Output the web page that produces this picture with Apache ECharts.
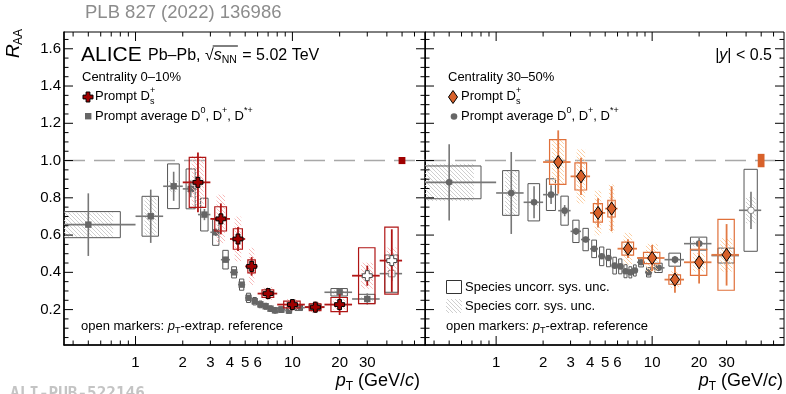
<!DOCTYPE html>
<html>
<head>
<meta charset="utf-8">
<script src="https://cdn.jsdelivr.net/npm/echarts@6/dist/echarts.min.js"></script>
<style>
html,body{margin:0;padding:0;background:#fff;}
#chart{width:786px;height:394px;}
</style>
</head>
<body>
<div id="chart"></div>
<script>
// ---------- axis ranges and ticks ----------
const X_MIN = 0.35, X_MAX = 70, Y_MIN = 0.01, Y_MAX = 1.69;

const xMajorTicks = [1, 10];
const xMinorTicks = [0.4, 0.5, 0.6, 0.7, 0.8, 0.9, 2, 3, 4, 5, 6, 7, 8, 9, 20, 30, 40, 50, 60];
const xTickLabels = [1, 2, 3, 4, 5, 6, 10, 20, 30];
const yMajorTicks = [0.2, 0.4, 0.6, 0.8, 1.0, 1.2, 1.4, 1.6];
const yMinorTicks = [0.05, 0.1, 0.15, 0.25, 0.3, 0.35, 0.45, 0.5, 0.55, 0.65, 0.7, 0.75, 0.85, 0.9, 0.95,
  1.05, 1.1, 1.15, 1.25, 1.3, 1.35, 1.45, 1.5, 1.55, 1.65];
const yTickLabels = ['0.2', '0.4', '0.6', '0.8', '1.0', '1.2', '1.4', '1.6'];

// ---------- Prompt D average (D0, D+, D*+), 0-10% ----------
const dAvgLo = [0, 1, 1.5, 2, 2.5, 3, 3.5, 4, 4.5, 5, 5.5, 6, 6.5, 7, 7.5, 8, 9, 10, 12, 16, 24, 36];
const dAvgHi = [1, 1.5, 2, 2.5, 3, 3.5, 4, 4.5, 5, 5.5, 6, 6.5, 7, 7.5, 8, 9, 10, 12, 16, 24, 36, 50];
const dAvg010Val  = [0.656, 0.701, 0.862, 0.848, 0.710, 0.615, 0.468, 0.400, 0.334, 0.263, 0.245, 0.228, 0.218, 0.205, 0.196, 0.200, 0.195, 0.210, 0.215, 0.293, 0.257, 0.393];
const dAvg010Stat = [0.168, 0.143, 0.078, 0.045, 0.030, 0.020, 0.015, 0.012, 0.012, 0.010, 0.010, 0.010, 0.010, 0.010, 0.010, 0.010, 0.010, 0.010, 0.012, 0.020, 0.030, 0.040];
const dAvg010SysU = [0.070, 0.107, 0.120, 0.107, 0.088, 0.070, 0.050, 0.030, 0.030, 0.025, 0.020, 0.018, 0.016, 0.015, 0.015, 0.015, 0.015, 0.015, 0.015, 0.020, 0.025, 0.100];
const dAvg010SysC = [0.065, 0.100, 0.030, 0.030, 0.020, 0.020, 0.015, 0.012, 0.012, 0.010, 0.010, 0.010, 0.010, 0.010, 0.010, 0.010, 0.010, 0.010, 0.010, 0.012, 0.012, 0.012];
const dAvg010Open = [0, 0, 0, 0, 0, 0, 0, 0, 0, 0, 0, 0, 0, 0, 0, 0, 0, 0, 0, 0, 0, 1];

// ---------- Prompt D average, 30-50% ----------
const dAvg3050Val  = [0.883, 0.826, 0.776, 0.817, 0.731, 0.620, 0.576, 0.526, 0.486, 0.477, 0.436, 0.432, 0.406, 0.400, 0.410, 0.454, 0.400, 0.424, 0.468, 0.554, 0.490, 0.733];
const dAvg3050Stat = [0.205, 0.220, 0.086, 0.050, 0.030, 0.020, 0.015, 0.012, 0.012, 0.010, 0.010, 0.010, 0.010, 0.010, 0.010, 0.010, 0.010, 0.015, 0.020, 0.030, 0.040, 0.100];
const dAvg3050SysU = [0.088, 0.120, 0.100, 0.085, 0.078, 0.060, 0.060, 0.047, 0.050, 0.047, 0.045, 0.040, 0.035, 0.030, 0.030, 0.025, 0.025, 0.025, 0.035, 0.035, 0.040, 0.220];
const dAvg3050SysC = [0.100, 0.120, 0.020, 0.020, 0.020, 0.015, 0.015, 0.012, 0.012, 0.010, 0.010, 0.010, 0.010, 0.010, 0.010, 0.010, 0.020, 0.015, 0.015, 0.015, 0.020, 0.070];
const dAvg3050Open = [0, 0, 0, 0, 0, 0, 0, 0, 0, 0, 0, 0, 0, 0, 0, 0, 0, 0, 0, 0, 0, 1];

// ---------- Prompt Ds+, 0-10% ----------
const ds010Lo   = [2, 3, 4, 5, 6, 8, 12, 16, 24, 36];
const ds010Hi   = [3, 4, 5, 6, 8, 12, 16, 24, 36, 50];
const ds010Val  = [0.883, 0.687, 0.579, 0.432, 0.286, 0.227, 0.213, 0.227, 0.382, 0.463];
const ds010Stat = [0.160, 0.083, 0.065, 0.050, 0.030, 0.030, 0.030, 0.056, 0.054, 0.168];
const ds010SysU = [0.134, 0.065, 0.055, 0.035, 0.020, 0.018, 0.018, 0.038, 0.150, 0.180];
const ds010SysC = [0.140, 0.130, 0.120, 0.100, 0.035, 0.030, 0.030, 0.030, 0.070, 0.070];
const ds010Open = [0, 0, 0, 0, 0, 0, 0, 0, 1, 1];

// ---------- Prompt Ds+, 30-50% ----------
const ds3050Lo   = [2, 3, 4, 5, 6, 8, 12, 16, 24];
const ds3050Hi   = [3, 4, 5, 6, 8, 12, 16, 24, 36];
const ds3050Val  = [0.992, 0.915, 0.719, 0.742, 0.527, 0.477, 0.361, 0.454, 0.494];
const ds3050Stat = [0.170, 0.100, 0.078, 0.120, 0.050, 0.070, 0.070, 0.114, 0.165];
const ds3050SysU = [0.120, 0.073, 0.050, 0.045, 0.035, 0.030, 0.025, 0.070, 0.190];
const ds3050SysC = [0.120, 0.145, 0.120, 0.130, 0.085, 0.076, 0.045, 0.050, 0.090];
const ds3050Open = [0, 0, 0, 0, 0, 0, 0, 0, 0];

// ---------- global normalisation uncertainties (drawn at R_AA = 1) ----------
const norm010  = [[50, 1.0, 0.019]];
const norm3050 = [[50, 1.0, 0.036]];

// ---------- helpers ----------
const FONT = '"Liberation Sans", Arial, Helvetica, sans-serif';
const mctx = document.createElement('canvas').getContext('2d');
function textWidth(s, size, italic) {
  mctx.font = (italic ? 'italic ' : '') + size + 'px ' + FONT;
  return mctx.measureText(s).width;
}
function hatch(color) {
  const cv = document.createElement('canvas');
  cv.width = 4; cv.height = 4;
  const g = cv.getContext('2d');
  g.strokeStyle = color; g.lineWidth = 0.9;
  g.beginPath();
  g.moveTo(-1, -1); g.lineTo(5, 5);
  g.moveTo(-1, 3); g.lineTo(1, 5);
  g.moveTo(3, -1); g.lineTo(5, 1);
  g.stroke();
  return { image: cv, repeat: 'repeat' };
}
function rows(lo, hi, val, stat, su, sc, open) {
  return val.map((v, i) => [lo[i], hi[i], v, stat[i], su[i], sc[i], open[i]]);
}

// marker shapes in pixel space
function crossPts(x, y) {
  const a = 5, t = 1.9;
  return [[x - t, y - a], [x + t, y - a], [x + t, y - t], [x + a, y - t], [x + a, y + t], [x + t, y + t],
          [x + t, y + a], [x - t, y + a], [x - t, y + t], [x - a, y + t], [x - a, y - t], [x - t, y - t]];
}
function diamondPts(x, y) {
  return [[x, y - 6.5], [x + 4.5, y], [x, y + 6.5], [x - 4.5, y]];
}
const markers = {
  cross: (x, y, open, st) => ({ type: 'polygon', shape: { points: crossPts(x, y) },
    style: { fill: open ? '#fff' : st.fill, stroke: open ? '#444' : '#000', lineWidth: 1 } }),
  diamond: (x, y, open, st) => ({ type: 'polygon', shape: { points: diamondPts(x, y) },
    style: { fill: open ? '#fff' : st.fill, stroke: '#000', lineWidth: 1 } }),
  square: (x, y, open, st) => ({ type: 'rect', shape: { x: x - 3.2, y: y - 3.2, width: 6.4, height: 6.4 },
    style: { fill: open ? '#fff' : st.fill, stroke: open ? '#888' : null, lineWidth: 1 } }),
  circle: (x, y, open, st) => ({ type: 'circle', shape: { cx: x, cy: y, r: 3.3 },
    style: { fill: open ? '#fff' : st.fill, stroke: open ? '#888' : null, lineWidth: 1 } })
};

// one measured point: correlated (hatched) box, uncorrelated box, stat bars, marker
function pointRenderer(st) {
  return function (params, api) {
    const lo = api.value(0), hi = api.value(1), v = api.value(2);
    const e = api.value(3), su = api.value(4), sc = api.value(5), open = api.value(6);
    const c = (lo + hi) / 2, w = hi - lo;
    const P = (x, y) => api.coord([Math.max(x, X_MIN * 0.5), y]);
    const ch = [];
    if (sc > 0) {
      const a = P(c - 0.22 * w, v + sc), b = P(c + 0.22 * w, v - sc);
      ch.push({ type: 'rect', shape: { x: a[0], y: a[1], width: b[0] - a[0], height: b[1] - a[1] },
        style: { fill: st.hatch, stroke: null } });
    }
    const a2 = P(c - 0.3 * w, v + su), b2 = P(c + 0.3 * w, v - su);
    ch.push({ type: 'rect', shape: { x: a2[0], y: a2[1], width: b2[0] - a2[0], height: b2[1] - a2[1] },
      style: { fill: null, stroke: st.box, lineWidth: st.boxW } });
    const l = P(lo, v), r = P(hi, v), t = P(c, v + e), d = P(c, v - e);
    ch.push({ type: 'line', shape: { x1: l[0], y1: l[1], x2: r[0], y2: r[1] }, style: { stroke: st.err, lineWidth: st.errW } });
    ch.push({ type: 'line', shape: { x1: t[0], y1: t[1], x2: d[0], y2: d[1] }, style: { stroke: st.err, lineWidth: st.errW } });
    const m = P(c, v);
    ch.push(markers[st.marker](m[0], m[1], open, st));
    return { type: 'group', children: ch };
  };
}

function normRenderer(color) {
  return function (params, api) {
    const x = api.value(0), y = api.value(1), h = api.value(2);
    const a = api.coord([x * 0.95, y + h]), b = api.coord([x * 1.05, y - h]);
    return { type: 'rect', shape: { x: a[0], y: a[1], width: b[0] - a[0], height: b[1] - a[1] }, style: { fill: color } };
  };
}

// inward ticks on all four frame sides plus tick labels
function frameRenderer(withYLabels) {
  return function (params, api) {
    const ch = [];
    const o = api.coord([X_MIN, Y_MIN]), q = api.coord([X_MAX, Y_MAX]);
    const lft = o[0], bot = o[1], rgt = q[0], top = q[1];
    const seg = (x1, y1, x2, y2) => ({ type: 'line', shape: { x1, y1, x2, y2 }, style: { stroke: '#000', lineWidth: 1 } });
    const xt = (v, len) => { const x = api.coord([v, Y_MIN])[0]; ch.push(seg(x, bot, x, bot - len), seg(x, top, x, top + len)); };
    const yt = (v, len) => { const y = api.coord([X_MIN, v])[1]; ch.push(seg(lft, y, lft + len, y), seg(rgt, y, rgt - len, y)); };
    xMajorTicks.forEach(v => xt(v, 9));
    xMinorTicks.forEach(v => xt(v, 4.5));
    yMajorTicks.forEach(v => yt(v, 9));
    yMinorTicks.forEach(v => yt(v, 4.5));
    xTickLabels.forEach(v => {
      const x = api.coord([v, Y_MIN])[0];
      ch.push({ type: 'text', x: x, y: bot + 18, style: { text: String(v), font: '15px ' + FONT, fill: '#000',
        align: 'center', verticalAlign: 'middle', textAlign: 'center', textVerticalAlign: 'middle' } });
    });
    if (withYLabels) {
      yMajorTicks.forEach((v, i) => {
        const y = api.coord([X_MIN, v])[1];
        ch.push({ type: 'text', x: lft - 3, y: y, style: { text: yTickLabels[i], font: '15px ' + FONT, fill: '#000',
          align: 'right', verticalAlign: 'middle', textAlign: 'right', textVerticalAlign: 'middle' } });
      });
    }
    return { type: 'group', children: ch };
  };
}

// ---------- styles ----------
const grayHatch = hatch('#c9c9c9');
const styGray010 = { marker: 'square', fill: '#666', box: '#555', boxW: 1, err: '#777', errW: 1.6, hatch: grayHatch };
const styGray3050 = { marker: 'circle', fill: '#666', box: '#555', boxW: 1, err: '#777', errW: 1.6, hatch: grayHatch };
const styRed = { marker: 'cross', fill: '#a00000', box: '#b01515', boxW: 1.2, err: '#b01515', errW: 1.8, hatch: hatch('#f6b4b4') };
const styOrange = { marker: 'diamond', fill: '#d8612a', box: '#e0703a', boxW: 1.2, err: '#e27a45', errW: 1.8, hatch: hatch('#fbcb9c') };

// ---------- text runs (sub/superscripts as separate pieces) ----------
const TXT = [];
function run(x, y, parts, color, anchor) {
  let total = 0;
  const ws = parts.map(p => textWidth(p.t, p.s, p.i));
  parts.forEach((p, k) => { if (!p.na) total += ws[k]; });
  let cx = anchor === 'right' ? x - total : x;
  parts.forEach((p, k) => {
    TXT.push({ type: 'text', x: cx, y: y + (p.dy || 0), silent: true, z: 100,
      style: { text: p.t, font: (p.i ? 'italic ' : '') + (p.b ? 'bold ' : '') + p.s + 'px ' + (p.f || FONT), fill: p.c || color,
        align: 'left', verticalAlign: 'middle', textAlign: 'left', textVerticalAlign: 'middle' } });
    if (!p.na) cx += ws[k];
  });
  return cx;
}

run(85, 13, [{ t: 'PLB 827 (2022) 136986', s: 18.5 }], '#8c8c8c');
run(10, 394, [{ t: 'ALI-PUB-522146', s: 16, b: true, f: '"DejaVu Sans Mono", monospace' }], '#c4c4c4');

// left panel header
run(81, 55, [{ t: 'ALICE', s: 21 }], '#000');
const sx = run(148, 56, [{ t: 'Pb\u2013Pb, ', s: 16 }, { t: '\u221A', s: 16 }], '#000');
const ex = run(sx, 56, [{ t: 's', s: 16, i: true }, { t: 'NN', s: 10.5, dy: 4 }], '#000');
run(ex + 1, 56, [{ t: ' = 5.02 TeV', s: 16 }], '#000');
TXT.push({ type: 'line', shape: { x1: sx - 1, y1: 46, x2: ex + 1, y2: 46 }, style: { stroke: '#000', lineWidth: 1 }, z: 100 });

function legendBlock(x0, cent) {
  run(x0, 77, [{ t: cent, s: 13 }], '#000');
  run(x0 + 13, 96, [{ t: 'Prompt D', s: 13 }, { t: '+', s: 9, dy: -5, na: true }, { t: 's', s: 9, dy: 6 }], '#000');
  run(x0 + 13, 116, [{ t: 'Prompt average D', s: 13 }, { t: '0', s: 9, dy: -5 }, { t: ', D', s: 13 },
    { t: '+', s: 9, dy: -5 }, { t: ', D', s: 13 }, { t: '*+', s: 9, dy: -5 }], '#000');
}
legendBlock(82, 'Centrality 0\u201310%');
legendBlock(448, 'Centrality 30\u201350%');

run(772, 56, [{ t: '|', s: 16 }, { t: 'y', s: 16, i: true }, { t: '| < 0.5', s: 16 }], '#000', 'right');

// sys. legend (right panel)
run(465, 287, [{ t: 'Species uncorr. sys. unc.', s: 13 }], '#000');
run(465, 306, [{ t: 'Species corr. sys. unc.', s: 13 }], '#000');
TXT.push({ type: 'rect', shape: { x: 446.5, y: 280.5, width: 15, height: 13 }, style: { fill: null, stroke: '#333', lineWidth: 1 }, z: 100 });
TXT.push({ type: 'rect', shape: { x: 446, y: 299, width: 16, height: 14 }, style: { fill: grayHatch, stroke: null }, z: 100 });

// open-marker notes
[81, 446].forEach(x0 => {
  run(x0, 326, [{ t: 'open markers: ', s: 13 }, { t: 'p', s: 13, i: true }, { t: 'T', s: 9, dy: 5 }, { t: '-extrap. reference', s: 13 }], '#000');
});

// axis titles
[420, 783].forEach(xe => {
  run(xe, 381, [{ t: 'p', s: 18, i: true }, { t: 'T', s: 12, dy: 6 }, { t: ' (GeV/', s: 18 }, { t: 'c', s: 18, i: true }, { t: ')', s: 18 }], '#000', 'right');
});
TXT.push({ type: 'text', x: 14, y: 58, rotation: Math.PI / 2, z: 100,
  style: { text: 'R', font: 'italic 19px ' + FONT, fill: '#000', align: 'left', verticalAlign: 'middle', textAlign: 'left', textVerticalAlign: 'middle' } });
TXT.push({ type: 'text', x: 19, y: 45, rotation: Math.PI / 2, z: 100,
  style: { text: 'AA', font: '12px ' + FONT, fill: '#000', align: 'left', verticalAlign: 'middle', textAlign: 'left', textVerticalAlign: 'middle' } });

// legend symbols
const lgRed = crossPts(88, 97), lgDia = diamondPts(453, 97);
TXT.push({ type: 'polygon', shape: { points: lgRed }, style: { fill: '#a00000', stroke: '#000', lineWidth: 1 }, z: 100 });
TXT.push({ type: 'rect', shape: { x: 85, y: 113, width: 6.4, height: 6.4 }, style: { fill: '#666' }, z: 100 });
TXT.push({ type: 'polygon', shape: { points: lgDia }, style: { fill: '#d8612a', stroke: '#000', lineWidth: 1 }, z: 100 });
TXT.push({ type: 'circle', shape: { cx: 454, cy: 116.5, r: 3.3 }, style: { fill: '#666' }, z: 100 });

// ---------- chart ----------
const grids = [
  { left: 64, right: 361, top: 32, bottom: 49 },
  { left: 425, right: 2, top: 32, bottom: 49 }
];
function xAx(gi) {
  return { type: 'log', logBase: 10, gridIndex: gi, min: X_MIN, max: X_MAX,
    axisLine: { show: true, lineStyle: { color: '#000', width: 1.5 } }, axisTick: { show: false },
    axisLabel: { show: false }, splitLine: { show: false }, minorSplitLine: { show: false } };
}
function yAx(gi) {
  return { type: 'value', gridIndex: gi, min: Y_MIN, max: Y_MAX,
    axisLine: { show: true, lineStyle: { color: '#000', width: gi === 0 ? 1.5 : 1 } }, axisTick: { show: false },
    axisLabel: { show: false }, splitLine: { show: false } };
}
function unityLine(gi) {
  return { type: 'line', xAxisIndex: gi, yAxisIndex: gi, data: [[X_MIN, 1], [X_MAX, 1]], symbol: 'none', silent: true,
    lineStyle: { color: '#a8a8a8', width: 1.5, type: [21, 9] }, z: 1 };
}
function pointSeries(gi, data, st, z) {
  return { type: 'custom', xAxisIndex: gi, yAxisIndex: gi, data: data, renderItem: pointRenderer(st), clip: true, silent: true, z: z,
    encode: { x: 0, y: 2 } };
}

const option = {
  animation: false,
  backgroundColor: '#fff',
  grid: grids.map(g => Object.assign({ show: true, borderColor: '#000', borderWidth: 1, backgroundColor: 'transparent' }, g)),
  xAxis: [xAx(0), xAx(1)],
  yAxis: [yAx(0), yAx(1)],
  series: [
    unityLine(0), unityLine(1),
    pointSeries(0, rows(dAvgLo, dAvgHi, dAvg010Val, dAvg010Stat, dAvg010SysU, dAvg010SysC, dAvg010Open), styGray010, 2),
    pointSeries(1, rows(dAvgLo, dAvgHi, dAvg3050Val, dAvg3050Stat, dAvg3050SysU, dAvg3050SysC, dAvg3050Open), styGray3050, 2),
    pointSeries(0, rows(ds010Lo, ds010Hi, ds010Val, ds010Stat, ds010SysU, ds010SysC, ds010Open), styRed, 3),
    pointSeries(1, rows(ds3050Lo, ds3050Hi, ds3050Val, ds3050Stat, ds3050SysU, ds3050SysC, ds3050Open), styOrange, 3),
    { type: 'custom', xAxisIndex: 0, yAxisIndex: 0, data: norm010, renderItem: normRenderer('#a00000'), silent: true, z: 3 },
    { type: 'custom', xAxisIndex: 1, yAxisIndex: 1, data: norm3050, renderItem: normRenderer('#d8612a'), silent: true, z: 3 },
    { type: 'custom', xAxisIndex: 0, yAxisIndex: 0, data: [[1, 1]], renderItem: frameRenderer(true), silent: true, z: 5 },
    { type: 'custom', xAxisIndex: 1, yAxisIndex: 1, data: [[1, 1]], renderItem: frameRenderer(false), silent: true, z: 5 }
  ],
  graphic: { elements: TXT }
};

const chart = echarts.init(document.getElementById('chart'), null, { renderer: 'canvas' });
chart.setOption(option);
</script>
</body>
</html>
